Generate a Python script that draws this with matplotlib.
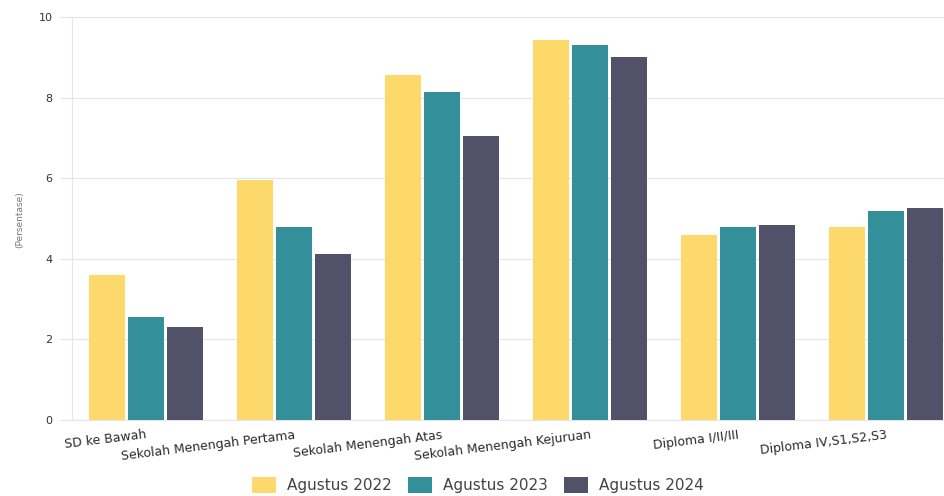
import matplotlib
matplotlib.use("Agg")
import matplotlib.pyplot as plt
import numpy as np

categories = ["SD ke Bawah", "Sekolah Menengah Pertama", "Sekolah Menengah Atas",
              "Sekolah Menengah Kejuruan", "Diploma I/II/III", "Diploma IV,S1,S2,S3"]
series_names = ["Agustus 2022", "Agustus 2023", "Agustus 2024"]
ags_2022 = [3.59, 5.95, 8.57, 9.42, 4.59, 4.80]
ags_2023 = [2.56, 4.78, 8.15, 9.31, 4.79, 5.18]
ags_2024 = [2.32, 4.11, 7.05, 9.01, 4.83, 5.25]
y_ticks = [0, 2, 4, 6, 8, 10]

colors = ["#FDD86B", "#33909A", "#52516A"]
plt.rcParams['font.family'] = ['DejaVu Sans']

fig = plt.figure(figsize=(9.45, 4.96), dpi=100)
W, H = 945, 496
left_px, right_px, top_px, bot_px = 72, 945, 17, 420
ax = fig.add_axes([left_px / W, 1 - bot_px / H, (right_px - left_px) / W, (bot_px - top_px) / H])

x = np.arange(len(categories))
step = 0.264
width = 0.243
for k, (vals, name) in enumerate(zip([ags_2022, ags_2023, ags_2024], series_names)):
    ax.bar(x + (k - 1) * step, vals, width=width, color=colors[k], label=name, zorder=3)

ax.set_xlim(-0.5, -0.5 + (right_px - left_px) / 148.0)
ax.set_ylim(0, 10)
ax.set_yticks(y_ticks)
ax.set_yticklabels([str(t) for t in y_ticks], fontsize=8, color="#333333")
ax.tick_params(axis='y', length=9, color="#e6e6e6", pad=5)
ax.grid(axis='y', color="#e6e6e6", linewidth=0.9, zorder=0)
for s in ["top", "right"]:
    ax.spines[s].set_visible(False)
ax.spines["left"].set_color("#e6e6e6")
ax.spines["bottom"].set_color("#e6e6e6")

ax.set_xticks(x)
ax.set_xticklabels(categories, rotation=7, ha='right', rotation_mode='anchor',
                   fontsize=9, color="#2a2a2a", va='top')
ax.tick_params(axis='x', length=0, pad=6)

fig.text(20 / W, 1 - 220 / H, "(Persentase)", rotation=90, fontsize=6.5,
         color="#777777", ha='center', va='center')

leg = fig.legend(loc='center', bbox_to_anchor=(478 / W, 1 - 485 / H), ncol=3,
                 frameon=False, fontsize=11, handlelength=1.55, handleheight=1.3,
                 handletextpad=0.7, columnspacing=1.1)
for t in leg.get_texts():
    t.set_color("#444444")

fig.savefig("out.png", dpi=100)
